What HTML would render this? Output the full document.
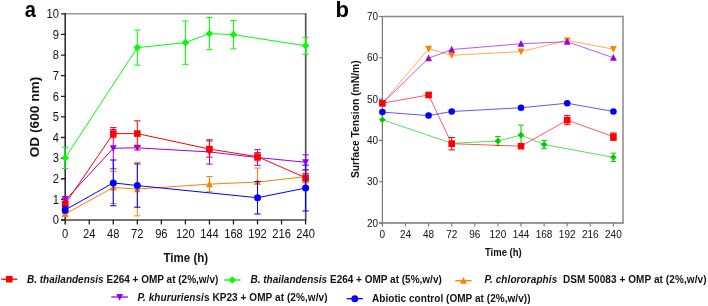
<!DOCTYPE html>
<html><head><meta charset="utf-8"><style>
html,body{margin:0;padding:0;background:#fff;width:708px;height:306px;overflow:hidden}
svg{display:block;will-change:transform}
text{font-family:"Liberation Sans",sans-serif;fill:#111}
.ta{font-size:12px}
.tb{font-size:10px}
.tla{font-size:12px;font-weight:bold}
.tod{font-size:13.7px;font-weight:bold}
.tlb{font-size:10.8px;font-weight:bold}
.tlb2{font-size:10.3px;font-weight:bold}
.pl{font-size:22px;font-weight:bold;fill:#000}
.lg{font-size:10px;font-weight:bold}
</style></head><body>
<svg width="708" height="306" viewBox="0 0 708 306">
<path d="M65.2 13.8H306.2" stroke="#9a9a9a" stroke-width="1.5"/>
<path d="M305.7 13.2V220.5" stroke="#555" stroke-width="1.7"/>
<path d="M65.2 13.1V224.5" stroke="#222" stroke-width="1.5"/>
<path d="M61 220H306.3" stroke="#444" stroke-width="1.5"/>
<path d="M61 220H65.2M61 199.38H65.2M61 178.76H65.2M61 158.14H65.2M61 137.52H65.2M61 116.9H65.2M61 96.28H65.2M61 75.66H65.2M61 55.04H65.2M61 34.42H65.2M61 13.8H65.2M89.24 220V224.5M113.28 220V224.5M137.32 220V224.5M161.36 220V224.5M185.4 220V224.5M209.44 220V224.5M233.48 220V224.5M257.52 220V224.5M281.56 220V224.5M305.6 220V224.5" stroke="#222" stroke-width="1.3"/>
<text transform="translate(59 224.3) scale(0.93 1)" text-anchor="end" class="ta">0</text>
<text transform="translate(59 203.68) scale(0.93 1)" text-anchor="end" class="ta">1</text>
<text transform="translate(59 183.06) scale(0.93 1)" text-anchor="end" class="ta">2</text>
<text transform="translate(59 162.44) scale(0.93 1)" text-anchor="end" class="ta">3</text>
<text transform="translate(59 141.82) scale(0.93 1)" text-anchor="end" class="ta">4</text>
<text transform="translate(59 121.2) scale(0.93 1)" text-anchor="end" class="ta">5</text>
<text transform="translate(59 100.58) scale(0.93 1)" text-anchor="end" class="ta">6</text>
<text transform="translate(59 79.96) scale(0.93 1)" text-anchor="end" class="ta">7</text>
<text transform="translate(59 59.34) scale(0.93 1)" text-anchor="end" class="ta">8</text>
<text transform="translate(59 38.72) scale(0.93 1)" text-anchor="end" class="ta">9</text>
<text transform="translate(59 18.1) scale(0.93 1)" text-anchor="end" class="ta">10</text>
<text transform="translate(65.2 238.2) scale(0.93 1)" text-anchor="middle" class="ta">0</text>
<text transform="translate(89.24 238.2) scale(0.93 1)" text-anchor="middle" class="ta">24</text>
<text transform="translate(113.28 238.2) scale(0.93 1)" text-anchor="middle" class="ta">48</text>
<text transform="translate(137.32 238.2) scale(0.93 1)" text-anchor="middle" class="ta">72</text>
<text transform="translate(161.36 238.2) scale(0.93 1)" text-anchor="middle" class="ta">96</text>
<text transform="translate(185.4 238.2) scale(0.93 1)" text-anchor="middle" class="ta">120</text>
<text transform="translate(209.44 238.2) scale(0.93 1)" text-anchor="middle" class="ta">144</text>
<text transform="translate(233.48 238.2) scale(0.93 1)" text-anchor="middle" class="ta">168</text>
<text transform="translate(257.52 238.2) scale(0.93 1)" text-anchor="middle" class="ta">192</text>
<text transform="translate(281.56 238.2) scale(0.93 1)" text-anchor="middle" class="ta">216</text>
<text transform="translate(305.6 238.2) scale(0.93 1)" text-anchor="middle" class="ta">240</text>
<text transform="translate(185.8 262) scale(0.96 1)" text-anchor="middle" class="tla">Time (h)</text>
<text transform="translate(39 117) rotate(-90)" text-anchor="middle" class="tod">OD (600 nm)</text>
<text transform="translate(30.3 17.2) scale(0.91 1)" text-anchor="middle" class="pl">a</text>
<polyline points="65.2,214.02 113.28,187.42 137.32,189.07 209.44,184.12 257.52,182.06 305.6,176.7" fill="none" stroke="#ff7f00" stroke-width="1.0" stroke-opacity="1.0"/>
<path d="M65.2 211.96V216.08M62 211.96H68.4M62 216.08H68.4" stroke="#ff7f00" stroke-width="1" fill="none"/>
<path d="M113.28 171.34V203.5M110.08 171.34H116.48M110.08 203.5H116.48" stroke="#ff7f00" stroke-width="1" fill="none"/>
<path d="M137.32 162.26V215.88M134.12 162.26H140.52M134.12 215.88H140.52" stroke="#ff7f00" stroke-width="1" fill="none"/>
<path d="M209.44 176.49V191.75M206.24 176.49H212.64M206.24 191.75H212.64" stroke="#ff7f00" stroke-width="1" fill="none"/>
<path d="M257.52 168.04V196.08M254.32 168.04H260.72M254.32 196.08H260.72" stroke="#ff7f00" stroke-width="1" fill="none"/>
<path d="M305.6 170.51V182.88M302.4 170.51H308.8M302.4 182.88H308.8" stroke="#ff7f00" stroke-width="1" fill="none"/>
<path d="M65.2 210.28L68.6 217.08L61.8 217.08Z" fill="#ff7f00"/>
<path d="M113.28 183.68L116.68 190.48L109.88 190.48Z" fill="#ff7f00"/>
<path d="M137.32 185.33L140.72 192.13L133.92 192.13Z" fill="#ff7f00"/>
<path d="M209.44 180.38L212.84 187.18L206.04 187.18Z" fill="#ff7f00"/>
<path d="M257.52 178.32L260.92 185.12L254.12 185.12Z" fill="#ff7f00"/>
<path d="M305.6 172.96L309 179.76L302.2 179.76Z" fill="#ff7f00"/>
<polyline points="65.2,200.41 113.28,148.24 137.32,147.83 209.44,151.95 257.52,157.52 305.6,162.26" fill="none" stroke="#9900e6" stroke-width="1.0" stroke-opacity="1.0"/>
<path d="M65.2 196.49V204.33M62 196.49H68.4M62 204.33H68.4" stroke="#9900e6" stroke-width="1" fill="none"/>
<path d="M113.28 127.62V168.86M110.08 127.62H116.48M110.08 168.86H116.48" stroke="#9900e6" stroke-width="1" fill="none"/>
<path d="M137.32 145.77V149.89M134.12 145.77H140.52M134.12 149.89H140.52" stroke="#9900e6" stroke-width="1" fill="none"/>
<path d="M209.44 139.79V164.12M206.24 139.79H212.64M206.24 164.12H212.64" stroke="#9900e6" stroke-width="1" fill="none"/>
<path d="M257.52 149.69V165.36M254.32 149.69H260.72M254.32 165.36H260.72" stroke="#9900e6" stroke-width="1" fill="none"/>
<path d="M305.6 154.84V169.69M302.4 154.84H308.8M302.4 169.69H308.8" stroke="#9900e6" stroke-width="1" fill="none"/>
<path d="M65.2 204.15L68.6 197.35L61.8 197.35Z" fill="#9900e6"/>
<path d="M113.28 151.98L116.68 145.18L109.88 145.18Z" fill="#9900e6"/>
<path d="M137.32 151.57L140.72 144.77L133.92 144.77Z" fill="#9900e6"/>
<path d="M209.44 155.69L212.84 148.89L206.04 148.89Z" fill="#9900e6"/>
<path d="M257.52 161.26L260.92 154.46L254.12 154.46Z" fill="#9900e6"/>
<path d="M305.6 166L309 159.2L302.2 159.2Z" fill="#9900e6"/>
<polyline points="65.2,203.92 113.28,133.6 137.32,133.6 209.44,149.07 257.52,156.7 305.6,177.73" fill="none" stroke="#ff0000" stroke-width="1.0" stroke-opacity="1.0"/>
<path d="M65.2 201.85V205.98M62 201.85H68.4M62 205.98H68.4" stroke="#ff0000" stroke-width="1" fill="none"/>
<path d="M113.28 129.48V137.73M110.08 129.48H116.48M110.08 137.73H116.48" stroke="#ff0000" stroke-width="1" fill="none"/>
<path d="M137.32 120.82V146.39M134.12 120.82H140.52M134.12 146.39H140.52" stroke="#ff0000" stroke-width="1" fill="none"/>
<path d="M209.44 141.03V157.11M206.24 141.03H212.64M206.24 157.11H212.64" stroke="#ff0000" stroke-width="1" fill="none"/>
<path d="M257.52 152.57V160.82M254.32 152.57H260.72M254.32 160.82H260.72" stroke="#ff0000" stroke-width="1" fill="none"/>
<path d="M305.6 173.61V181.85M302.4 173.61H308.8M302.4 181.85H308.8" stroke="#ff0000" stroke-width="1" fill="none"/>
<rect x="61.9" y="200.62" width="6.6" height="6.6" fill="#ff0000"/>
<rect x="109.98" y="130.3" width="6.6" height="6.6" fill="#ff0000"/>
<rect x="134.02" y="130.3" width="6.6" height="6.6" fill="#ff0000"/>
<rect x="206.14" y="145.77" width="6.6" height="6.6" fill="#ff0000"/>
<rect x="254.22" y="153.4" width="6.6" height="6.6" fill="#ff0000"/>
<rect x="302.3" y="174.43" width="6.6" height="6.6" fill="#ff0000"/>
<polyline points="65.2,209.9 113.28,182.88 137.32,185.56 257.52,197.73 305.6,188.04" fill="none" stroke="#0000ff" stroke-width="1.0" stroke-opacity="1.0"/>
<path d="M65.2 206.8V212.99M62 206.8H68.4M62 212.99H68.4" stroke="#0000ff" stroke-width="1" fill="none"/>
<path d="M113.28 160V205.77M110.08 160H116.48M110.08 205.77H116.48" stroke="#0000ff" stroke-width="1" fill="none"/>
<path d="M137.32 163.91V207.22M134.12 163.91H140.52M134.12 207.22H140.52" stroke="#0000ff" stroke-width="1" fill="none"/>
<path d="M257.52 181.44V214.02M254.32 181.44H260.72M254.32 214.02H260.72" stroke="#0000ff" stroke-width="1" fill="none"/>
<path d="M305.6 165.15V210.93M302.4 165.15H308.8M302.4 210.93H308.8" stroke="#0000ff" stroke-width="1" fill="none"/>
<circle cx="65.2" cy="209.9" r="3.5" fill="#0000ff"/>
<circle cx="113.28" cy="182.88" r="3.5" fill="#0000ff"/>
<circle cx="137.32" cy="185.56" r="3.5" fill="#0000ff"/>
<circle cx="257.52" cy="197.73" r="3.5" fill="#0000ff"/>
<circle cx="305.6" cy="188.04" r="3.5" fill="#0000ff"/>
<polyline points="65.2,157.93 137.32,47.62 185.4,42.67 209.44,33.6 233.48,34.63 305.6,45.76" fill="none" stroke="#00ff00" stroke-width="1.0" stroke-opacity="1.0"/>
<path d="M65.2 147.42V168.45M62 147.42H68.4M62 168.45H68.4" stroke="#00ff00" stroke-width="1" fill="none"/>
<path d="M137.32 30.09V65.14M134.12 30.09H140.52M134.12 65.14H140.52" stroke="#00ff00" stroke-width="1" fill="none"/>
<path d="M185.4 21.02V64.32M182.2 21.02H188.6M182.2 64.32H188.6" stroke="#00ff00" stroke-width="1" fill="none"/>
<path d="M209.44 17.51V49.68M206.24 17.51H212.64M206.24 49.68H212.64" stroke="#00ff00" stroke-width="1" fill="none"/>
<path d="M233.48 20.4V48.85M230.28 20.4H236.68M230.28 48.85H236.68" stroke="#00ff00" stroke-width="1" fill="none"/>
<path d="M305.6 37.31V54.22M302.4 37.31H308.8M302.4 54.22H308.8" stroke="#00ff00" stroke-width="1" fill="none"/>
<path d="M65.2 154.13L69 157.93L65.2 161.73L61.4 157.93Z" fill="#00ff00"/>
<path d="M137.32 43.82L141.12 47.62L137.32 51.42L133.52 47.62Z" fill="#00ff00"/>
<path d="M185.4 38.87L189.2 42.67L185.4 46.47L181.6 42.67Z" fill="#00ff00"/>
<path d="M209.44 29.8L213.24 33.6L209.44 37.4L205.64 33.6Z" fill="#00ff00"/>
<path d="M233.48 30.83L237.28 34.63L233.48 38.43L229.68 34.63Z" fill="#00ff00"/>
<path d="M305.6 41.96L309.4 45.76L305.6 49.56L301.8 45.76Z" fill="#00ff00"/>
<path d="M382.4 16.6H623.6" stroke="#888" stroke-width="1.5"/>
<path d="M623 16.5V223.6" stroke="#8a8a8a" stroke-width="1.5"/>
<path d="M382.4 16V226.5" stroke="#777" stroke-width="1.2"/>
<path d="M379 223H623.6" stroke="#777" stroke-width="1.3"/>
<path d="M379 223H382.4M379 181.7H382.4M379 140.4H382.4M379 99.1H382.4M379 57.8H382.4M379 16.5H382.4M405.5 223V226.4M428.6 223V226.4M451.7 223V226.4M474.8 223V226.4M497.9 223V226.4M521 223V226.4M544.1 223V226.4M567.2 223V226.4M590.3 223V226.4M613.4 223V226.4" stroke="#777" stroke-width="1.1"/>
<text x="378" y="226.6" text-anchor="end" class="tb">20</text>
<text x="378" y="185.3" text-anchor="end" class="tb">30</text>
<text x="378" y="144" text-anchor="end" class="tb">40</text>
<text x="378" y="102.7" text-anchor="end" class="tb">50</text>
<text x="378" y="61.4" text-anchor="end" class="tb">60</text>
<text x="378" y="20.1" text-anchor="end" class="tb">70</text>
<text x="382.4" y="237.6" text-anchor="middle" class="tb">0</text>
<text x="405.5" y="237.6" text-anchor="middle" class="tb">24</text>
<text x="428.6" y="237.6" text-anchor="middle" class="tb">48</text>
<text x="451.7" y="237.6" text-anchor="middle" class="tb">72</text>
<text x="474.8" y="237.6" text-anchor="middle" class="tb">96</text>
<text x="497.9" y="237.6" text-anchor="middle" class="tb">120</text>
<text x="521" y="237.6" text-anchor="middle" class="tb">144</text>
<text x="544.1" y="237.6" text-anchor="middle" class="tb">168</text>
<text x="567.2" y="237.6" text-anchor="middle" class="tb">192</text>
<text x="590.3" y="237.6" text-anchor="middle" class="tb">216</text>
<text x="613.4" y="237.6" text-anchor="middle" class="tb">240</text>
<text transform="translate(503.3 255.8) scale(0.88 1)" text-anchor="middle" class="tlb">Time (h)</text>
<text transform="translate(359.3 119.25) rotate(-90)" text-anchor="middle" class="tlb2">Surface Tension (mN/m)</text>
<text x="335.5" y="16.9" class="pl">b</text>
<polyline points="382.4,119.75 451.7,143.29 497.9,141.02 521,135.03 544.1,144.53 613.4,157.33" fill="none" stroke="#00cc00" stroke-width="1.0" stroke-opacity="0.65"/>
<path d="M497.9 136.48V145.56M495.1 136.48H500.7M495.1 145.56H500.7" stroke="#00cc00" stroke-width="1" fill="none"/>
<path d="M521 125.12V144.94M518.2 125.12H523.8M518.2 144.94H523.8" stroke="#00cc00" stroke-width="1" fill="none"/>
<path d="M544.1 140.4V148.66M541.3 140.4H546.9M541.3 148.66H546.9" stroke="#00cc00" stroke-width="1" fill="none"/>
<path d="M613.4 153.2V161.46M610.6 153.2H616.2M610.6 161.46H616.2" stroke="#00cc00" stroke-width="1" fill="none"/>
<path d="M382.4 116.41L385.74 119.75L382.4 123.09L379.06 119.75Z" fill="#00cc00"/>
<path d="M451.7 139.95L455.04 143.29L451.7 146.63L448.36 143.29Z" fill="#00cc00"/>
<path d="M497.9 137.68L501.24 141.02L497.9 144.36L494.56 141.02Z" fill="#00cc00"/>
<path d="M521 131.69L524.34 135.03L521 138.38L517.66 135.03Z" fill="#00cc00"/>
<path d="M544.1 141.19L547.44 144.53L544.1 147.87L540.76 144.53Z" fill="#00cc00"/>
<path d="M613.4 153.99L616.74 157.33L613.4 160.68L610.06 157.33Z" fill="#00cc00"/>
<polyline points="382.4,112.11 428.6,115.62 451.7,111.49 521,107.77 567.2,103.23 613.4,111.49" fill="none" stroke="#0000ff" stroke-width="1.0" stroke-opacity="0.65"/>
<circle cx="382.4" cy="112.11" r="3.29" fill="#0000ff"/>
<circle cx="428.6" cy="115.62" r="3.29" fill="#0000ff"/>
<circle cx="451.7" cy="111.49" r="3.29" fill="#0000ff"/>
<circle cx="521" cy="107.77" r="3.29" fill="#0000ff"/>
<circle cx="567.2" cy="103.23" r="3.29" fill="#0000ff"/>
<circle cx="613.4" cy="111.49" r="3.29" fill="#0000ff"/>
<polyline points="382.4,103.23 428.6,48.71 451.7,55.32 521,51.61 567.2,40.45 613.4,49.13" fill="none" stroke="#ff7f00" stroke-width="1.0" stroke-opacity="0.65"/>
<path d="M382.4 106.97L385.8 100.17L379 100.17Z" fill="#ff7f00"/>
<path d="M428.6 52.45L432 45.65L425.2 45.65Z" fill="#ff7f00"/>
<path d="M451.7 59.06L455.1 52.26L448.3 52.26Z" fill="#ff7f00"/>
<path d="M521 55.35L524.4 48.55L517.6 48.55Z" fill="#ff7f00"/>
<path d="M567.2 44.19L570.6 37.39L563.8 37.39Z" fill="#ff7f00"/>
<path d="M613.4 52.87L616.8 46.07L610 46.07Z" fill="#ff7f00"/>
<polyline points="382.4,103.23 428.6,58.21 451.7,49.54 521,43.76 567.2,41.69 613.4,57.8" fill="none" stroke="#9900e6" stroke-width="1.0" stroke-opacity="0.65"/>
<path d="M382.4 99.49L385.8 106.29L379 106.29Z" fill="#9900e6"/>
<path d="M428.6 54.47L432 61.27L425.2 61.27Z" fill="#9900e6"/>
<path d="M451.7 45.8L455.1 52.6L448.3 52.6Z" fill="#9900e6"/>
<path d="M521 40.02L524.4 46.82L517.6 46.82Z" fill="#9900e6"/>
<path d="M567.2 37.95L570.6 44.75L563.8 44.75Z" fill="#9900e6"/>
<path d="M613.4 54.06L616.8 60.86L610 60.86Z" fill="#9900e6"/>
<polyline points="382.4,103.23 428.6,94.97 451.7,143.7 521,146.18 567.2,120.16 613.4,136.68" fill="none" stroke="#ff0000" stroke-width="1.0" stroke-opacity="0.65"/>
<path d="M451.7 137.51V149.9M448.5 137.51H454.9M448.5 149.9H454.9" stroke="#ff0000" stroke-width="1" fill="none"/>
<path d="M567.2 115.62V124.71M564 115.62H570.4M564 124.71H570.4" stroke="#ff0000" stroke-width="1" fill="none"/>
<path d="M613.4 132.97V140.4M610.2 132.97H616.6M610.2 140.4H616.6" stroke="#ff0000" stroke-width="1" fill="none"/>
<rect x="379.1" y="99.93" width="6.6" height="6.6" fill="#ff0000"/>
<rect x="425.3" y="91.67" width="6.6" height="6.6" fill="#ff0000"/>
<rect x="448.4" y="140.4" width="6.6" height="6.6" fill="#ff0000"/>
<rect x="517.7" y="142.88" width="6.6" height="6.6" fill="#ff0000"/>
<rect x="563.9" y="116.86" width="6.6" height="6.6" fill="#ff0000"/>
<rect x="610.1" y="133.38" width="6.6" height="6.6" fill="#ff0000"/>
<path d="M1.2 279.2H17.4" stroke="#ff0000" stroke-width="1.3"/><rect x="6" y="275.9" width="6.6" height="6.6" fill="#ff0000"/>
<text x="27" y="282.8" class="lg"><tspan font-style="italic">B. thailandensis</tspan> E264 + OMP at (2%,w/v)</text>
<path d="M223.9 280H240.6" stroke="#00ff00" stroke-width="1.3"/><path d="M232.25 276.2L236.05 280L232.25 283.8L228.45 280Z" fill="#00ff00"/>
<text x="250.5" y="282.8" class="lg"><tspan font-style="italic">B. thailandensis</tspan> E264 + OMP at (5%,w/v)</text>
<path d="M455.3 280.7H471.6" stroke="#ff7f00" stroke-width="1.3"/><path d="M463.45 276.96L466.85 283.76L460.05 283.76Z" fill="#ff7f00"/>
<text x="484.5" y="282.8" class="lg" xml:space="preserve" textLength="222" lengthAdjust="spacing"><tspan font-style="italic">P. chlororaphis</tspan>  DSM 50083 + OMP at (2%,w/v)</text>
<path d="M111.3 297H128" stroke="#9900e6" stroke-width="1.3"/><path d="M119.65 300.74L123.05 293.94L116.25 293.94Z" fill="#9900e6"/>
<text x="137.5" y="301.2" class="lg" textLength="190" lengthAdjust="spacing"><tspan font-style="italic">P. khururiensi</tspan>s KP23 + OMP at (2%,w/v)</text>
<path d="M346.6 298.7H362.9" stroke="#0000ff" stroke-width="1.3"/><circle cx="354.75" cy="298.7" r="3.5" fill="#0000ff"/>
<text x="372" y="302" class="lg" textLength="158.5" lengthAdjust="spacing">Abiotic control (OMP at (2%,w/v))</text>
</svg>
</body></html>
